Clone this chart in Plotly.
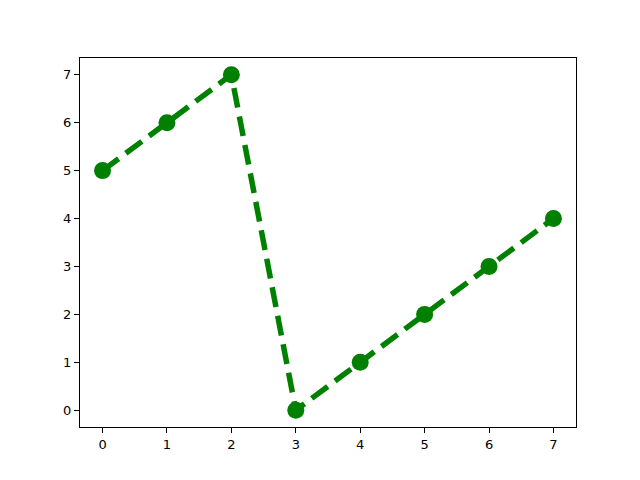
import plotly.graph_objects as go

x_vals = [0, 1, 2, 3, 4, 5, 6, 7]
y_vals = [5, 6, 7, 0, 1, 2, 3, 4]
tick_vals = [0, 1, 2, 3, 4, 5, 6, 7]

fig = go.Figure()
fig.add_trace(go.Scatter(
    x=x_vals, y=y_vals, mode='lines+markers',
    line=dict(color='green', width=5.5, dash='20px,9px'),
    marker=dict(color='green', size=17),
    showlegend=False,
))

axis_style = dict(
    showgrid=False, zeroline=False, showline=True, linecolor='black',
    linewidth=1, mirror=True, ticks='outside', ticklen=5, tickwidth=1,
    tickcolor='black', tickvals=tick_vals, range=[-0.35, 7.35],
    tickfont=dict(family='DejaVu Sans', size=13, color='black'),
)
fig.update_xaxes(**axis_style)
fig.update_yaxes(**axis_style)

# page body adds an 8px offset, so margins are shifted to compensate
fig.update_layout(
    width=640, height=480,
    margin=dict(l=72, r=72, t=50, b=61),
    plot_bgcolor='white', paper_bgcolor='white',
)
fig.write_html("out.html")
